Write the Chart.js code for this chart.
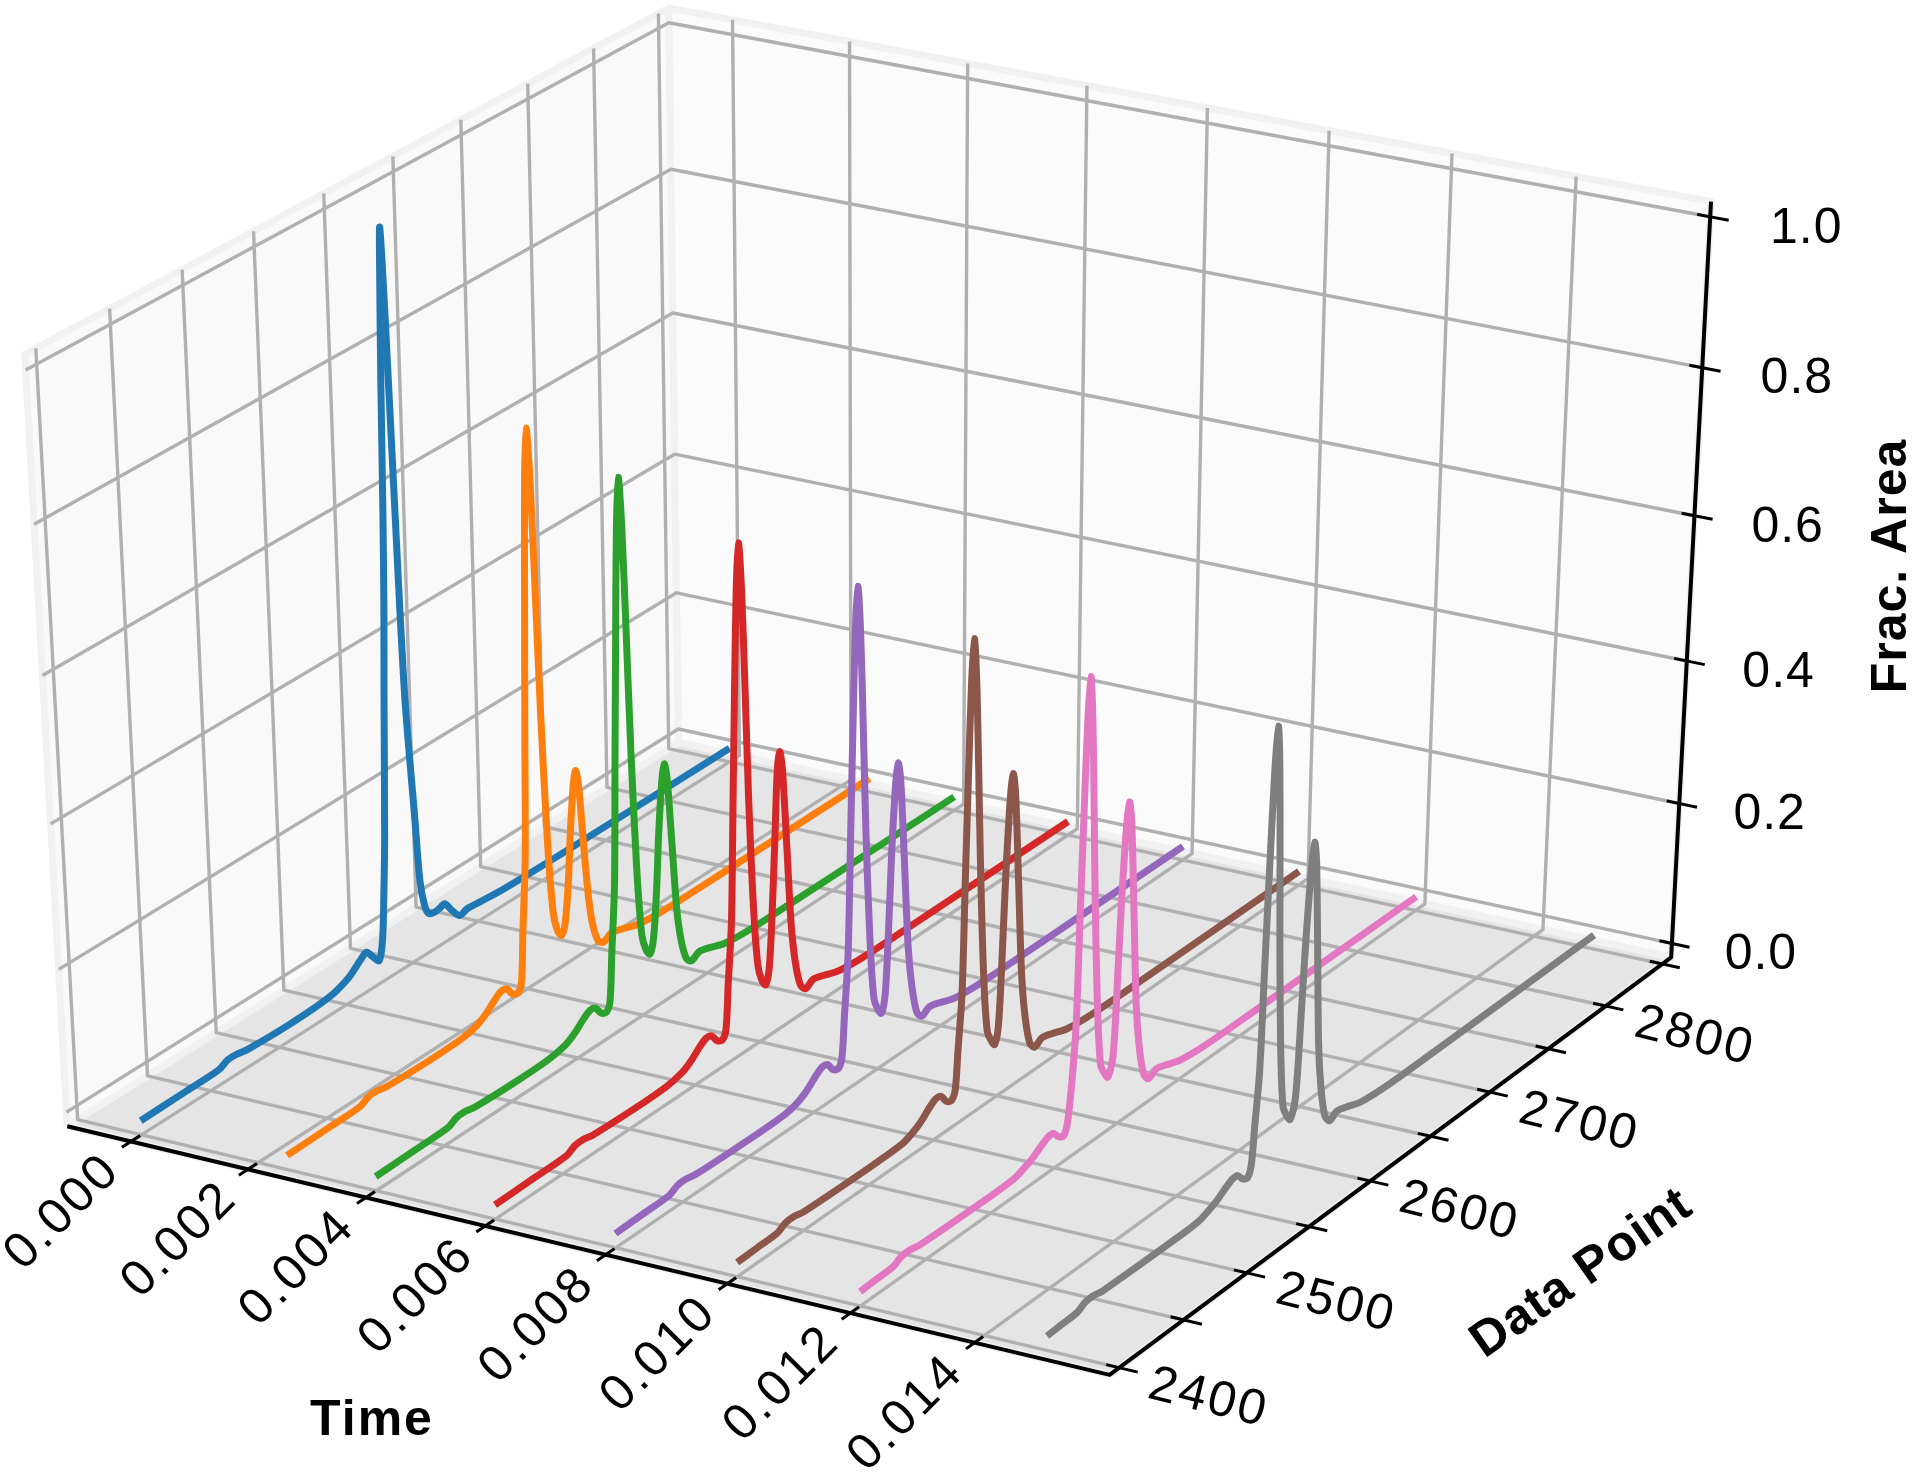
<!DOCTYPE html>
<html>
<head>
<meta charset="utf-8">
<title>Frac. Area</title>
<style>
  html, body { margin: 0; padding: 0; background: #fff; }
  canvas { display: block; }
</style>
<script src="https://cdn.jsdelivr.net/npm/chart.js@4/dist/chart.umd.min.js"></script>
</head>
<body>
<canvas id="chart" width="1920" height="1481"></canvas>
<script>
const timeTicks = [0, 0.002, 0.004, 0.006, 0.008, 0.010, 0.012, 0.014];
const timeLabels = ['0.000', '0.002', '0.004', '0.006', '0.008', '0.010', '0.012', '0.014'];
const pointTicks = [2400, 2450, 2500, 2550, 2600, 2650, 2700, 2750, 2800, 2850];
const pointLabels = ['2400', '', '2500', '', '2600', '', '2700', '', '2800', ''];
const areaTicks = [0, 0.2, 0.4, 0.6, 0.8, 1.0];
const areaLabels = ['0.0', '0.2', '0.4', '0.6', '0.8', '1.0'];

// axis limits of the 3d box
const timeLimits = [-0.0011, 0.01615];
const pointLimits = [2392.6, 2858];
const areaLimits = [-0.02, 1.02];

const seriesTimes = [0, 0.0025, 0.004, 0.006, 0.008, 0.010, 0.012, 0.015];
const seriesColors = ['#1f77b4', '#ff7f0e', '#2ca02c', '#d62728', '#9467bd', '#8c564b', '#e377c2', '#7f7f7f'];

const pointsBlue = [2400, 2433, 2456, 2463, 2469, 2478, 2508, 2537, 2552, 2561, 2566, 2570, 2575, 2578, 2580, 2582, 2585, 2587, 2588.5, 2590, 2591.5, 2592.7, 2594.5, 2597, 2600, 2604.7, 2607, 2610, 2613, 2617, 2621, 2625, 2630, 2636, 2642, 2652, 2672, 2722, 2850];
const areaBlue = [0, 0.001, 0.002, 0.008, 0.008, 0.005, 0.003, 0.006, 0.016, 0.03, 0.036, 0.025, 0.013, 0.04, 0.1, 0.18, 0.38, 0.5, 0.63, 0.8, 0.93, 1.0, 0.88, 0.63, 0.36, 0.18, 0.09, 0.05, 0.035, 0.032, 0.033, 0.035, 0.02, 0.005, 0.008, 0.006, 0.003, 0.001, 0];

const pointsOrange = [2400, 2428, 2453, 2459, 2465, 2473, 2503, 2528, 2540, 2547, 2554, 2559, 2563, 2567, 2571, 2574, 2576, 2579, 2581, 2583, 2585, 2587, 2589, 2591, 2593, 2596, 2599, 2602, 2605, 2608, 2611, 2613, 2616, 2618, 2620, 2623, 2626, 2629, 2633, 2637, 2643, 2651, 2663, 2683, 2723, 2850];
const areaOrange = [0, 0.001, 0.002, 0.008, 0.009, 0.006, 0.004, 0.005, 0.01, 0.018, 0.03, 0.036, 0.034, 0.022, 0.018, 0.03, 0.1, 0.2, 0.38, 0.55, 0.71, 0.78, 0.71, 0.55, 0.38, 0.2, 0.1, 0.07, 0.06, 0.075, 0.13, 0.19, 0.258, 0.278, 0.258, 0.17, 0.09, 0.045, 0.018, 0.012, 0.018, 0.014, 0.006, 0.002, 0.001, 0];

const pointsGreen = [2400, 2428, 2453, 2459, 2465, 2473, 2503, 2528, 2541, 2548, 2555, 2560, 2564, 2568, 2572, 2575, 2577, 2580, 2582, 2584, 2586, 2588, 2590, 2592, 2594, 2597, 2600, 2603, 2606, 2609, 2612, 2614, 2617, 2619, 2621, 2624, 2627, 2630, 2634, 2638, 2644, 2652, 2664, 2684, 2724, 2850];
const areaGreen = [0, 0.001, 0.002, 0.008, 0.009, 0.006, 0.004, 0.005, 0.01, 0.018, 0.03, 0.036, 0.034, 0.022, 0.018, 0.03, 0.095, 0.19, 0.36, 0.52, 0.67, 0.738, 0.67, 0.52, 0.36, 0.19, 0.095, 0.07, 0.06, 0.08, 0.15, 0.22, 0.291, 0.313, 0.291, 0.197, 0.1, 0.052, 0.02, 0.012, 0.018, 0.014, 0.006, 0.002, 0.001, 0];

const pointsRed = [2400, 2428, 2453, 2459, 2465, 2473, 2503, 2528, 2540, 2547, 2554, 2559, 2563, 2567, 2571, 2574, 2576, 2579, 2581, 2583, 2585, 2587, 2589, 2591, 2593, 2596, 2599, 2602, 2605, 2608, 2611, 2613, 2615, 2617, 2619, 2622, 2625, 2628, 2632, 2636, 2642, 2650, 2662, 2682, 2722, 2850];
const areaRed = [0, 0.001, 0.002, 0.008, 0.009, 0.006, 0.004, 0.005, 0.01, 0.018, 0.03, 0.036, 0.034, 0.022, 0.018, 0.03, 0.09, 0.175, 0.33, 0.485, 0.622, 0.685, 0.622, 0.485, 0.33, 0.175, 0.09, 0.065, 0.055, 0.08, 0.175, 0.257, 0.342, 0.368, 0.342, 0.232, 0.118, 0.061, 0.022, 0.012, 0.018, 0.014, 0.006, 0.002, 0.001, 0];

const pointsPurple = [2400, 2420, 2440, 2446, 2452, 2460, 2503, 2528, 2538, 2545, 2552, 2557, 2561, 2565, 2569, 2572, 2574, 2577, 2579, 2581, 2583, 2585, 2587, 2589, 2591, 2594, 2597, 2600, 2603, 2606, 2609, 2611, 2614, 2616, 2618, 2621, 2624, 2627, 2631, 2635, 2641, 2649, 2661, 2681, 2721, 2850];
const areaPurple = [0, 0.001, 0.002, 0.008, 0.009, 0.006, 0.004, 0.005, 0.01, 0.018, 0.03, 0.036, 0.034, 0.022, 0.018, 0.03, 0.085, 0.17, 0.32, 0.47, 0.603, 0.663, 0.603, 0.47, 0.32, 0.17, 0.085, 0.065, 0.055, 0.08, 0.185, 0.272, 0.362, 0.389, 0.362, 0.245, 0.123, 0.064, 0.022, 0.012, 0.018, 0.014, 0.006, 0.002, 0.001, 0];

const pointsBrown = [2400, 2415, 2430, 2436, 2442, 2450, 2503, 2525, 2533, 2540, 2547, 2552, 2556, 2560, 2564, 2567, 2569, 2572, 2574, 2576, 2578, 2580, 2582, 2584, 2586, 2589, 2592, 2595, 2598, 2601, 2604, 2606, 2609, 2611, 2613, 2616, 2619, 2622, 2626, 2630, 2636, 2644, 2656, 2676, 2716, 2850];
const areaBrown = [0, 0.001, 0.002, 0.008, 0.009, 0.006, 0.004, 0.005, 0.01, 0.018, 0.03, 0.036, 0.034, 0.022, 0.018, 0.03, 0.082, 0.16, 0.31, 0.45, 0.575, 0.633, 0.575, 0.45, 0.31, 0.16, 0.082, 0.065, 0.055, 0.08, 0.198, 0.29, 0.387, 0.416, 0.387, 0.262, 0.132, 0.068, 0.024, 0.012, 0.018, 0.014, 0.006, 0.002, 0.001, 0];

const pointsPink = [2400, 2410, 2425, 2431, 2437, 2445, 2503, 2518, 2526, 2533, 2540, 2545, 2549, 2553, 2557, 2560, 2563, 2566, 2568, 2570, 2572, 2574, 2576, 2578, 2580, 2583, 2586, 2589, 2592, 2596, 2599, 2601, 2604, 2606, 2608, 2611, 2614, 2617, 2621, 2625, 2631, 2639, 2651, 2671, 2711, 2850];
const areaPink = [0, 0.001, 0.002, 0.008, 0.009, 0.006, 0.004, 0.005, 0.01, 0.016, 0.025, 0.03, 0.03, 0.02, 0.016, 0.03, 0.08, 0.16, 0.305, 0.44, 0.565, 0.624, 0.565, 0.44, 0.305, 0.16, 0.08, 0.065, 0.055, 0.08, 0.2, 0.293, 0.39, 0.419, 0.39, 0.264, 0.133, 0.069, 0.024, 0.012, 0.018, 0.014, 0.006, 0.002, 0.001, 0];

const pointsGray = [2400, 2410, 2423, 2429, 2435, 2443, 2503, 2518, 2526, 2533, 2540, 2545, 2549, 2553, 2557, 2560, 2562, 2565, 2567, 2569, 2571, 2573, 2575, 2577, 2579, 2582, 2585, 2588, 2591, 2595, 2598, 2600, 2603, 2605, 2607, 2610, 2613, 2616, 2620, 2624, 2630, 2638, 2650, 2670, 2710, 2850];
const areaGray = [0, 0.001, 0.002, 0.008, 0.009, 0.006, 0.004, 0.005, 0.01, 0.016, 0.025, 0.03, 0.03, 0.02, 0.016, 0.03, 0.08, 0.156, 0.3, 0.435, 0.555, 0.612, 0.555, 0.435, 0.3, 0.156, 0.08, 0.065, 0.055, 0.08, 0.2, 0.293, 0.39, 0.42, 0.39, 0.264, 0.133, 0.069, 0.024, 0.012, 0.018, 0.014, 0.006, 0.002, 0.001, 0];

const seriesPoints = [pointsBlue, pointsOrange, pointsGreen, pointsRed, pointsPurple, pointsBrown, pointsPink, pointsGray];
const seriesAreas = [areaBlue, areaOrange, areaGreen, areaRed, areaPurple, areaBrown, areaPink, areaGray];

// camera of a default mplot3d view: elev 30, azim -60, dist 10
const eyeRight = [0.866, 0.5, 0];
const eyeUp = [-0.25, 0.433, 0.866];
const eyeBack = [0.433, -0.75, 0.5];
const eyeDistance = 10;

function dot(a, b) {
  return a[0] * b[0] + a[1] * b[1] + a[2] * b[2];
}

function boxPoint(bx, by, bz) {
  const q = [bx - 0.5, by - 0.5, bz - 0.5];
  const f = eyeDistance / (eyeDistance - dot(eyeBack, q));
  return { x: dot(eyeRight, q) * f, y: dot(eyeUp, q) * f };
}

function unit(value, limits) {
  return (value - limits[0]) / (limits[1] - limits[0]);
}

function project(time, dataPoint, area) {
  return boxPoint(unit(time, timeLimits), unit(dataPoint, pointLimits), unit(area, areaLimits));
}

const datasets = [];

function addPath(data, color, width, extra = {}) {
  datasets.push({
    data,
    showLine: true,
    borderColor: color,
    borderWidth: width,
    pointRadius: 0,
    tension: 0,
    fill: false,
    borderCapStyle: 'butt',
    borderJoinStyle: 'round',
    ...extra
  });
}

function addPane(corners, fillColor, edgeColor) {
  const closed = [...corners, corners[0]].map(c => boxPoint(c[0], c[1], c[2]));
  addPath(closed, edgeColor, 7, { fill: 'shape', backgroundColor: fillColor });
}

addPane([[0, 0, 0], [0, 1, 0], [0, 1, 1], [0, 0, 1]], '#f9f9f9', '#f1f1f1');
addPane([[0, 1, 0], [1, 1, 0], [1, 1, 1], [0, 1, 1]], '#fbfbfb', '#f1f1f1');
addPane([[0, 0, 0], [1, 0, 0], [1, 1, 0], [0, 1, 0]], '#e5e5e5', '#f1f1f1');

const gridColor = '#b0b0b0';
for (const t of timeTicks) {
  const bx = unit(t, timeLimits);
  addPath([boxPoint(bx, 0, 0), boxPoint(bx, 1, 0), boxPoint(bx, 1, 1)], gridColor, 3.4);
}
for (const p of pointTicks) {
  const by = unit(p, pointLimits);
  addPath([boxPoint(1, by, 0), boxPoint(0, by, 0), boxPoint(0, by, 1)], gridColor, 3.4);
}
for (const a of areaTicks) {
  const bz = unit(a, areaLimits);
  addPath([boxPoint(0, 0, bz), boxPoint(0, 1, bz), boxPoint(1, 1, bz)], gridColor, 3.4);
}

// axis lines and tick marks
addPath([boxPoint(0, 0, 0), boxPoint(1, 0, 0), boxPoint(1, 1, 0), boxPoint(1, 1, 1)], '#000', 4);
for (const t of timeTicks) {
  const bx = unit(t, timeLimits);
  addPath([boxPoint(bx, -0.014, 0), boxPoint(bx, 0.014, 0)], '#000', 3);
}
for (const p of pointTicks) {
  const by = unit(p, pointLimits);
  addPath([boxPoint(0.988, by, 0), boxPoint(1.017, by, 0)], '#000', 3);
}
for (const a of areaTicks) {
  const bz = unit(a, areaLimits);
  addPath([boxPoint(0.988, 1, bz), boxPoint(1.017, 1, bz)], '#000', 3);
}

seriesTimes.forEach((time, i) => {
  const line = seriesPoints[i].map((p, j) => project(time, p, seriesAreas[i][j]));
  addPath(line, seriesColors[i], 7, { tension: 0.3 });
});

// chart.js paints the lowest order last
datasets.forEach((d, i) => { d.order = datasets.length - i; });

const textFont = '"Liberation Sans", Arial, sans-serif';

function drawLabel(ctx, text, x, y, angle, font, spacing) {
  ctx.save();
  ctx.translate(x, y);
  ctx.rotate(angle * Math.PI / 180);
  ctx.font = font;
  ctx.letterSpacing = spacing;
  ctx.fillStyle = '#000';
  ctx.textAlign = 'center';
  ctx.textBaseline = 'middle';
  ctx.fillText(text, 0, 0);
  ctx.restore();
}

const axisText = {
  id: 'axisText',
  afterDatasetsDraw(chart) {
    const { ctx, scales } = chart;
    const px = p => [scales.x.getPixelForValue(p.x), scales.y.getPixelForValue(p.y)];
    const tickFont = '400 50px ' + textFont;
    const titleFont = '700 50px ' + textFont;
    timeTicks.forEach((t, i) => {
      const [x, y] = px(boxPoint(unit(t, timeLimits), 0, 0));
      drawLabel(ctx, timeLabels[i], x - 68, y + 71, -45, tickFont, '3px');
    });
    pointTicks.forEach((p, i) => {
      if (!pointLabels[i]) return;
      const [x, y] = px(boxPoint(1, unit(p, pointLimits), 0));
      drawLabel(ctx, pointLabels[i], x + 89, y + 31, 14, tickFont, '2.5px');
    });
    areaTicks.forEach((a, i) => {
      const [x, y] = px(boxPoint(1, 1, unit(a, areaLimits)));
      drawLabel(ctx, areaLabels[i], x + 89 + 7 * a, y + 12, 0, tickFont, '1px');
    });
    drawLabel(ctx, 'Time', 372, 1421, 0, titleFont, '2px');
    drawLabel(ctx, 'Data Point', 1582, 1274, -35, titleFont, '1px');
    drawLabel(ctx, 'Frac. Area', 1892, 566, -90, titleFont, '1px');
  }
};

new Chart(document.getElementById('chart'), {
  type: 'scatter',
  data: { datasets },
  plugins: [axisText],
  options: {
    responsive: false,
    animation: false,
    clip: false,
    layout: { padding: 0 },
    plugins: { legend: { display: false }, tooltip: { enabled: false } },
    scales: {
      x: { type: 'linear', display: false, min: -0.7327, max: 0.8630 },
      y: { type: 'linear', display: false, min: -0.9223, max: 0.7580 }
    }
  }
});
</script>
</body>
</html>
